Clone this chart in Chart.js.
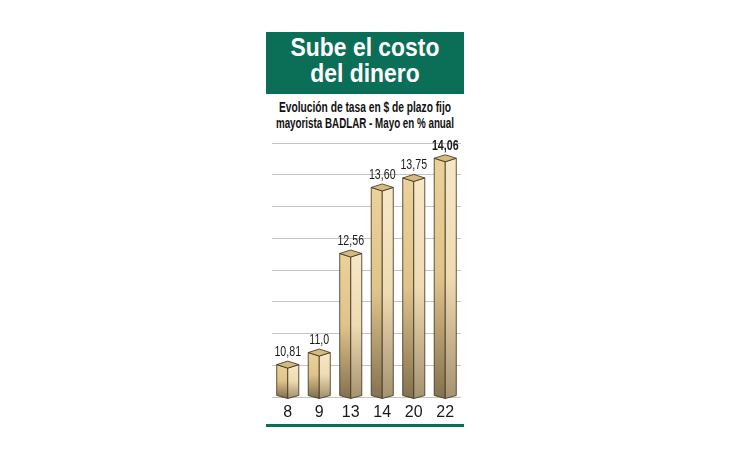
<!DOCTYPE html>
<html lang="es">
<head>
<meta charset="UTF-8" />
<title>Sube el costo del dinero</title>
<script src="https://cdn.jsdelivr.net/npm/chart.js@4.4.1/dist/chart.umd.min.js"></script>
<style>
    * { margin: 0; padding: 0; box-sizing: border-box; }
    body { width: 730px; height: 460px; background: #fff; position: relative; overflow: hidden;
        font-family: "Liberation Sans", Arial, sans-serif; }
    .title-box { position: absolute; left: 266px; top: 32px; width: 198px; height: 62px; background: #0b6e57; }
    .line { position: absolute; left: 165px; width: 400px; text-align: center; white-space: nowrap; font-weight: bold; }
    .t { top: 35px; color: #fff; font-size: 26px; line-height: 25.5px; transform: scaleX(0.88); }
    .s { color: #111; font-size: 14px; line-height: 16px; }
    .s1 { top: 99px; transform: scaleX(0.73); }
    .s2 { top: 115px; transform: scaleX(0.70); }
    #chart-wrap { position: absolute; left: 266px; top: 130px; width: 200px; height: 300px; }
    .bottom-line { position: absolute; left: 266px; top: 424px; width: 198px; height: 3px; background: #0b6e57; }
</style>
</head>
<body>
    <div class="title-box"></div>
    <div class="line t">Sube el costo<br>del dinero</div>
    <div class="line s s1">Evolución de tasa en $ de plazo fijo</div>
    <div class="line s s2">mayorista BADLAR - Mayo en % anual</div>
    <div id="chart-wrap"><canvas id="chart"></canvas></div>
    <div class="bottom-line"></div>

<script>
    const days = ["8", "9", "13", "14", "20", "22"];
    const rates = [10.81, 11.0, 12.56, 13.60, 13.75, 14.06];
    const rateLabels = ["10,81", "11,0", "12,56", "13,60", "13,75", "14,06"];

    // draws each bar as a little box with two faces and a top
    const boxBars = {
        id: "boxBars",
        afterDatasetsDraw(chart) {
            const ctx = chart.ctx;
            const meta = chart.getDatasetMeta(0);
            const base = chart.chartArea.bottom;
            meta.data.forEach((bar, i) => {
                const w = bar.width;
                const xl = bar.x - w / 2, xr = bar.x + w / 2, xc = bar.x;
                const y = bar.y;
                const d = 3.5;

                ctx.save();
                ctx.lineWidth = 0.8;
                ctx.strokeStyle = "#3b2e1c";
                ctx.lineJoin = "round";

                // left face
                let g = ctx.createLinearGradient(0, y, 0, base);
                g.addColorStop(0, "#ebd29a");
                g.addColorStop(0.5, "#dfc38b");
                g.addColorStop(1, "#85724f");
                ctx.fillStyle = g;
                ctx.beginPath();
                ctx.moveTo(xl, y);
                ctx.lineTo(xc, y + d);
                ctx.lineTo(xc, base + 1.5);
                ctx.lineTo(xl, base - 1.5);
                ctx.closePath();
                ctx.fill();
                ctx.stroke();

                // right face
                g = ctx.createLinearGradient(0, y, 0, base);
                g.addColorStop(0, "#f6e7c6");
                g.addColorStop(0.5, "#eedbb2");
                g.addColorStop(1, "#a69371");
                ctx.fillStyle = g;
                ctx.beginPath();
                ctx.moveTo(xc, y + d);
                ctx.lineTo(xr, y);
                ctx.lineTo(xr, base - 1.5);
                ctx.lineTo(xc, base + 1.5);
                ctx.closePath();
                ctx.fill();
                ctx.stroke();

                // top
                ctx.fillStyle = "#d5b97f";
                ctx.beginPath();
                ctx.moveTo(xl, y);
                ctx.lineTo(xc, y - d);
                ctx.lineTo(xr, y);
                ctx.lineTo(xc, y + d);
                ctx.closePath();
                ctx.fill();
                ctx.stroke();

                // value label, condensed
                ctx.fillStyle = "#1a1a1a";
                ctx.textAlign = "center";
                ctx.textBaseline = "alphabetic";
                ctx.font = (i === rates.length - 1 ? "bold " : "") + "14px 'Liberation Sans', Arial, sans-serif";
                ctx.translate(xc, y - d - 5);
                ctx.scale(0.76, 1);
                ctx.fillText(rateLabels[i], 0, 0);
                ctx.restore();
            });
        }
    };

    new Chart(document.getElementById("chart"), {
        type: "bar",
        data: {
            labels: days,
            datasets: [{
                data: rates,
                backgroundColor: "rgba(0,0,0,0)",
                borderWidth: 0,
                barPercentage: 0.7,
                categoryPercentage: 1
            }]
        },
        options: {
            responsive: true,
            maintainAspectRatio: false,
            animation: false,
            layout: { padding: { left: 6, right: 5, top: 13, bottom: 0 } },
            plugins: { legend: { display: false }, tooltip: { enabled: false } },
            scales: {
                x: {
                    grid: { display: false, drawTicks: false },
                    border: { display: false },
                    ticks: { color: "#1a1a1a", font: { family: "'Liberation Sans', Arial, sans-serif", size: 16 }, padding: 6 },
                    afterFit: s => { s.height = 33; }
                },
                y: {
                    min: 10.3,
                    max: 14.3,
                    ticks: { display: false, stepSize: 0.5 },
                    grid: { color: "#c4c4c4", lineWidth: 1, drawTicks: false },
                    border: { display: false },
                    afterFit: s => { s.width = 0; }
                }
            }
        },
        plugins: [boxBars]
    });
</script>
</body>
</html>
